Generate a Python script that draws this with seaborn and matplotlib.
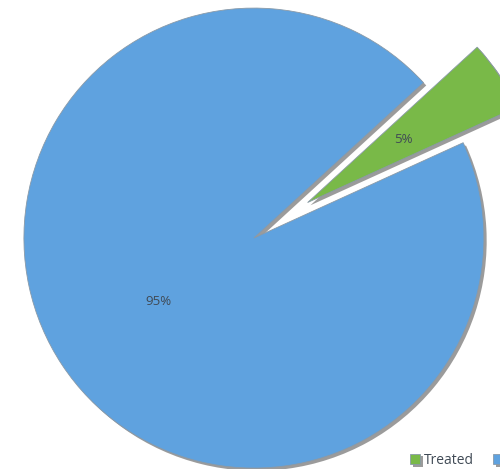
import matplotlib
matplotlib.use("Agg")
import matplotlib.pyplot as plt
import matplotlib.patheffects as pe
import seaborn as sns

# dati
categories = ["Treated", "Untreated"]
shares = [5, 95]
slice_colors = ["#79B948", "#5FA2DF"]
explode_amt = [0.28, 0.0]

sns.set_theme(style="white")
plt.rcParams['font.family'] = ['Open Sans', 'DejaVu Sans']

fig = plt.figure(figsize=(5.0, 4.69), dpi=100)
ax = fig.add_axes([0, 0, 1, 1])

wedges, texts, autotexts = ax.pie(
    shares,
    colors=slice_colors,
    explode=explode_amt,
    startangle=24.5,
    autopct=lambda p: f"{p:.0f}%",
    pctdistance=0.5,
    radius=1.0,
    wedgeprops=dict(edgecolor="#8a9aa8", linewidth=0.6),
    textprops=dict(color="#404a55", fontsize=9.5),
)

# ombra tipo bevel
for w in wedges:
    w.set_path_effects([pe.SimplePatchShadow(offset=(2, -2), shadow_rgbFace="#4a4a4a", alpha=0.55),
                        pe.Normal()])

ax.set_aspect("equal")
ax.set_xlim(-1.104, 1.070)
ax.set_ylim(-1.004, 1.035)
ax.axis("off")

fig.legend(wedges, categories, loc="lower left", bbox_to_anchor=(0.82, 0.003),
           ncol=2, frameon=False, handlelength=0.75, handleheight=0.75,
           handletextpad=0.25, columnspacing=1.4, borderpad=0.0, borderaxespad=0.0,
           prop=dict(size=10), labelcolor="#404a55")

fig.savefig("out.png", dpi=100)
